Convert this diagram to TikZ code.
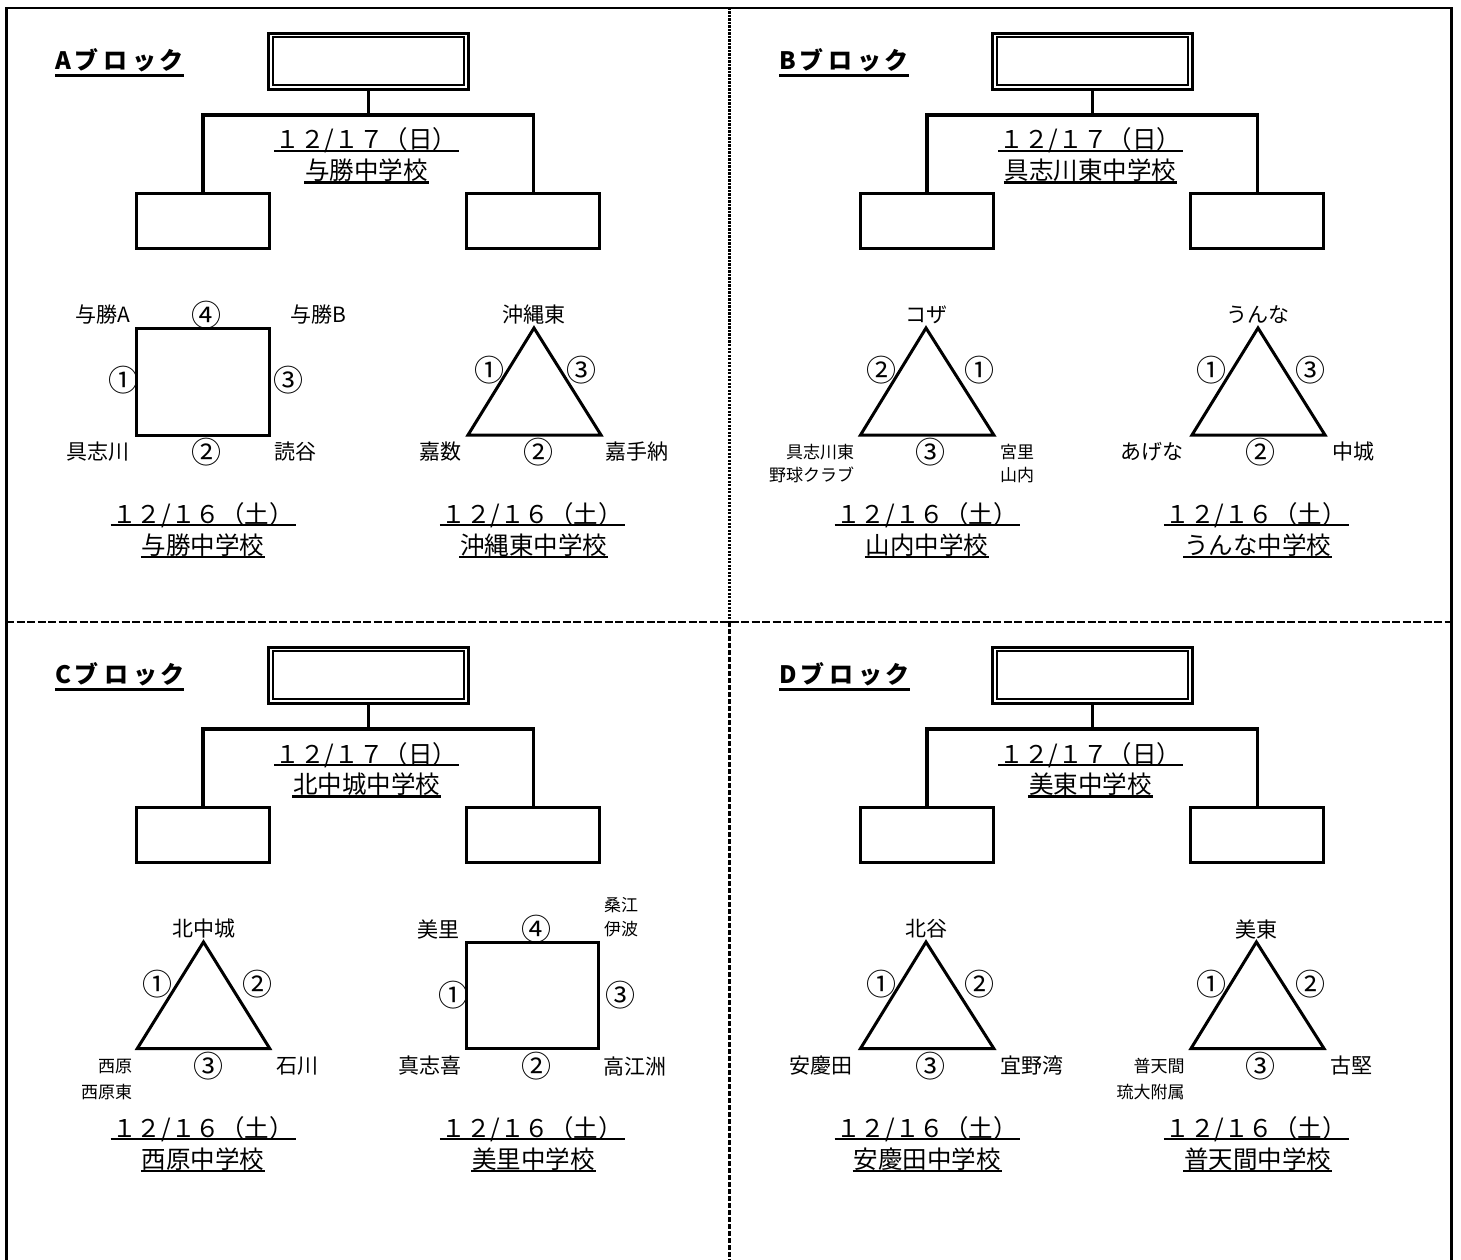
\documentclass[tikz,border=0pt]{standalone}
\usepackage{fontspec}
\setmainfont{Noto Sans CJK JP}
\begin{document}
\begin{tikzpicture}[x=1pt,y=-1pt,
  every node/.style={inner sep=0pt, outer sep=0pt},
  frame/.style={line width=2.7pt},
  dotline/.style={line width=2.7pt, dash pattern=on 2.2pt off 1.3pt},
  dashline/.style={line width=2.7pt, dash pattern=on 8pt off 2.5pt},
  dashlineb/.style={line width=2.7pt, dash pattern=on 5pt off 2pt},
  conn/.style={line width=3.2pt},
  box/.style={draw, line width=3pt, minimum width=132.6pt, minimum height=55pt},
  topbox/.style={draw, line width=3pt, minimum width=200pt, minimum height=56.2pt},
  sqbox/.style={draw, line width=3pt, minimum width=132.3pt, minimum height=107pt},
  innerline/.style={line width=1.6pt},
  fig/.style={line width=3pt, line join=miter},
  ulline/.style={line width=2.3pt},
  lab/.style={font=\fontsize{21}{21}\selectfont},
  small/.style={font=\fontsize{17}{17}\selectfont},
  num/.style={font=\fontsize{30}{30}\selectfont},
  ultxt/.style={font=\fontsize{24.5}{24.5}\selectfont},
  blk/.style={font=\bfseries\fontsize{24}{24}\selectfont}]

\newcommand\datenode[4]{%
  \node[ultxt, anchor=base, minimum width=185pt] (#1) at (#2,#3) {#4};
  \draw[ulline] ([yshift=-2.2pt]#1.base west) -- ([yshift=-2.2pt]#1.base east);}
\newcommand\schoolnode[4]{%
  \node[ultxt, anchor=base, inner xsep=1pt] (#1) at (#2,#3) {#4};
  \draw[ulline] ([yshift=-3pt]#1.base west) -- ([yshift=-3pt]#1.base east);}
\newcommand\TopPart[3]{%
  \node[blk, anchor=base west] (#1lab) at (55,69.5) {#2\hspace{4pt}ブ\hspace{5pt}ロ\hspace{5pt}ッ\hspace{3pt}ク};
  \draw[ulline] ([yshift=-6pt]#1lab.base west) -- ([yshift=-6pt]#1lab.base east);
  \node[topbox] (#1T) at (368.3,61.4) {};
  \draw[innerline] ([shift={(4.4,3.6)}]#1T.north west) rectangle ([shift={(-4.2,-4.4)}]#1T.south east);
  \node[box] (#1L) at (203,220.8) {};
  \node[box] (#1R) at (533.2,220.8) {};
  \coordinate (#1J) at (368.3,115);
  \draw[conn] (#1T.south) -- (#1J);
  \draw[conn] (#1L.north) |- (#1J) -| (#1R.north);
  \datenode{#1d}{366.5}{149}{１２/１７（日）}
  \schoolnode{#1s}{366.5}{179.5}{#3}}
\newcommand\LowDates[2]{%
  \datenode{\prefix ld}{203}{523}{１２/１６（土）}
  \schoolnode{\prefix ls}{203}{554}{#1}
  \datenode{\prefix rd}{532.3}{523}{１２/１６（土）}
  \schoolnode{\prefix rs}{533.5}{554}{#2}}

\useasboundingbox (0,0) rectangle (1461,1260);

% frame and dividers
\draw[frame] (6.2,1262) -- (6.2,8) -- (1451.7,8) -- (1451.7,1262);
\draw[dotline] (729.3,8) -- (729.3,622);
\draw[dashlineb] (729.3,622) -- (729.3,1262);
\draw[dashline] (6.2,622) -- (1451.7,622);

% ---------------- A block ----------------
\begin{scope}
\def\prefix{A}
\TopPart{A}{A}{与勝中学校}
\node[sqbox] (Asq) at (203,381.5) {};
\node[lab] (Aa) at (103,315) {与勝A};
\node[num] (An4) at (206,315) {④};
\node[lab] (Ab) at (318,315) {与勝B};
\node[num] (An1) at (123,380) {①};
\node[num] (An3) at (288,380) {③};
\node[lab] (Ac) at (98,452) {具志川};
\node[num] (An2) at (206,452) {②};
\node[lab] (Ad) at (295,452) {読谷};
\coordinate (Atp) at (534,328);
\coordinate (Abl) at (468,435);
\coordinate (Abr) at (601,435);
\draw[fig] (Atp) -- (Abl) -- (Abr) -- cycle;
\node[lab] (Ae) at (534,315) {沖縄東};
\node[num] (Am1) at (489,370) {①};
\node[num] (Am3) at (581.5,370) {③};
\node[lab] (Af) at (440,452) {嘉数};
\node[num] (Am2) at (538.5,452) {②};
\node[lab] (Ag) at (637,452) {嘉手納};
\LowDates{与勝中学校}{沖縄東中学校}
\end{scope}

% ---------------- B block ----------------
\begin{scope}[shift={(724,0)}]
\def\prefix{B}
\TopPart{B}{B}{具志川東中学校}
\coordinate (Btp) at (202,328);
\coordinate (Bbl) at (136.5,435);
\coordinate (Bbr) at (269.8,435);
\draw[fig] (Btp) -- (Bbl) -- (Bbr) -- cycle;
\node[lab] (Ba) at (202,315) {コザ};
\node[num] (Bn2) at (157,370) {②};
\node[num] (Bn1) at (255.5,370) {①};
\node[small, anchor=east] (Bb) at (130,452) {具志川東};
\node[small, anchor=east] (Bc) at (130,475) {野球クラブ};
\node[num] (Bn3) at (206,452) {③};
\node[small, anchor=west] (Bd) at (276,452) {宮里};
\node[small, anchor=west] (Be) at (276,475) {山内};
\coordinate (Btp2) at (534,328);
\coordinate (Bbl2) at (468,435);
\coordinate (Bbr2) at (601,435);
\draw[fig] (Btp2) -- (Bbl2) -- (Bbr2) -- cycle;
\node[lab] (Bf) at (534,315) {うんな};
\node[num] (Bm1) at (487,370) {①};
\node[num] (Bm3) at (586,370) {③};
\node[lab] (Bg) at (428,452) {あげな};
\node[num] (Bm2) at (536.5,452) {②};
\node[lab] (Bh) at (629,452) {中城};
\LowDates{山内中学校}{うんな中学校}
\end{scope}

% ---------------- C block ----------------
\begin{scope}[shift={(0,614)}]
\def\prefix{C}
\TopPart{C}{C}{北中城中学校}
\coordinate (Ctp) at (203.5,328);
\coordinate (Cbl) at (137.3,434.5);
\coordinate (Cbr) at (269.7,434.5);
\draw[fig] (Ctp) -- (Cbl) -- (Cbr) -- cycle;
\node[lab] (Ca) at (204,315) {北中城};
\node[num] (Cn1) at (157,370) {①};
\node[num] (Cn2) at (257,370) {②};
\node[small, anchor=east] (Cb) at (132,452) {西原};
\node[small, anchor=east] (Cc) at (132,478) {西原東};
\node[num] (Cn3) at (208,452) {③};
\node[lab] (Cd) at (297.5,452) {石川};
\node[sqbox, minimum width=131.3pt, minimum height=106pt] (Csq) at (532.4,381.5) {};
\node[lab] (Ce) at (438,315) {美里};
\node[num] (Cm4) at (536,315) {④};
\node[small] (Cf) at (621,291) {桑江};
\node[small] (Cg) at (621,315) {伊波};
\node[num] (Cm1) at (453,381) {①};
\node[num] (Cm3) at (620,381) {③};
\node[lab] (Ch) at (430,452) {真志喜};
\node[num] (Cm2) at (536,452) {②};
\node[lab] (Ci) at (635,452) {高江洲};
\LowDates{西原中学校}{美里中学校}
\end{scope}

% ---------------- D block ----------------
\begin{scope}[shift={(724,614)}]
\def\prefix{D}
\TopPart{D}{D}{美東中学校}
\coordinate (Dtp) at (202,328);
\coordinate (Dbl) at (136.5,434.5);
\coordinate (Dbr) at (269.8,434.5);
\draw[fig] (Dtp) -- (Dbl) -- (Dbr) -- cycle;
\node[lab] (Da) at (202,315) {北谷};
\node[num] (Dn1) at (157,370) {①};
\node[num] (Dn2) at (255.5,370) {②};
\node[lab] (Db) at (96.5,452) {安慶田};
\node[num] (Dn3) at (206,452) {③};
\node[lab] (Dc) at (308,452) {宜野湾};
\coordinate (Dtp2) at (532.4,328);
\coordinate (Dbl2) at (467,434.5);
\coordinate (Dbr2) at (600,434.5);
\draw[fig] (Dtp2) -- (Dbl2) -- (Dbr2) -- cycle;
\node[lab] (Dd) at (532.4,315) {美東};
\node[num] (Dm1) at (487,370) {①};
\node[num] (Dm2) at (586,370) {②};
\node[small, anchor=east] (De) at (460.6,452) {普天間};
\node[small, anchor=east] (Df) at (460.6,478) {琉大附属};
\node[num] (Dm3) at (536.5,452) {③};
\node[lab] (Dg) at (627.5,452) {古堅};
\LowDates{安慶田中学校}{普天間中学校}
\end{scope}
\end{tikzpicture}
\end{document}
